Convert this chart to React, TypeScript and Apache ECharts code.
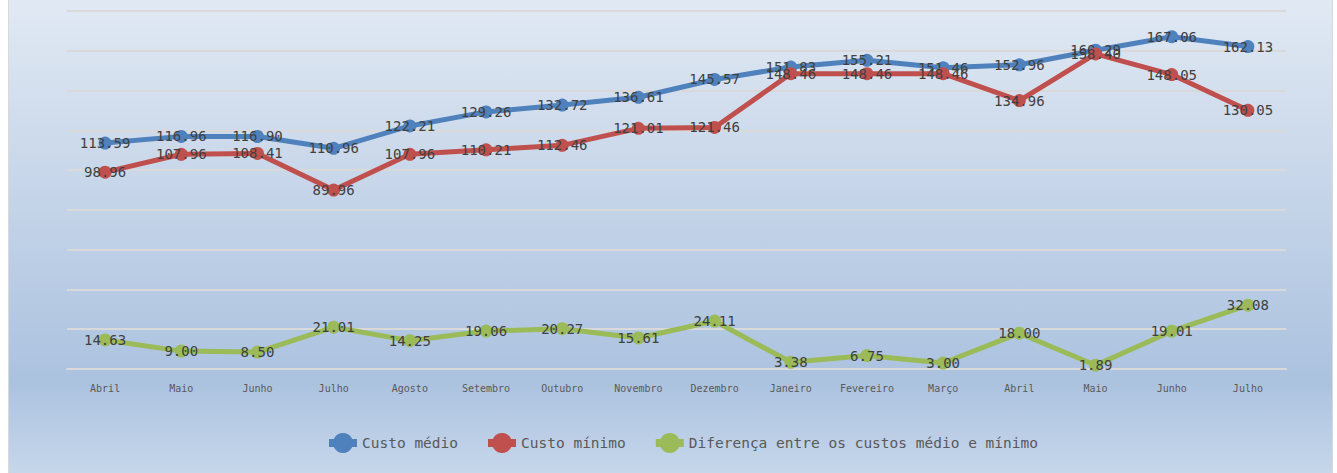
import React, { useEffect, useRef } from "react";
import * as echarts from "echarts";

const categories = ["Abril", "Maio", "Junho", "Julho", "Agosto", "Setembro", "Outubro", "Novembro", "Dezembro", "Janeiro", "Fevereiro", "Março", "Abril", "Maio", "Junho", "Julho"];
const custoMedio = [113.59, 116.96, 116.9, 110.96, 122.21, 129.26, 132.72, 136.61, 145.57, 151.83, 155.21, 151.46, 152.96, 160.29, 167.06, 162.13];
const custoMinimo = [98.96, 107.96, 108.41, 89.96, 107.96, 110.21, 112.46, 121.01, 121.46, 148.46, 148.46, 148.46, 134.96, 158.4, 148.05, 130.05];
const diferenca = [14.63, 9.0, 8.5, 21.01, 14.25, 19.06, 20.27, 15.61, 24.11, 3.38, 6.75, 3.0, 18.0, 1.89, 19.01, 32.08];

const seriesNames = ["Custo médio", "Custo mínimo", "Diferença entre os custos médio e mínimo"];
const seriesColors = ["#4f81bd", "#c0504d", "#9bbb59"];
const MONO = "'DejaVu Sans Mono', monospace";

export default function App() {
  const ref = useRef<HTMLDivElement>(null);
  useEffect(() => {
    if (!ref.current) return;
    const chart = echarts.init(ref.current, undefined, { renderer: "svg" });
    const datasets = [custoMedio, custoMinimo, diferenca];
    chart.setOption({
      animation: false,
      backgroundColor: {
        type: "linear",
        x: 0, y: 0, x2: 0, y2: 1,
        colorStops: [
          { offset: 0, color: "#e2eaf4" },
          { offset: 0.45, color: "#c3d3e8" },
          { offset: 0.8, color: "#abc2df" },
          { offset: 1, color: "#c8d8ec" },
        ],
      },
      grid: { left: 58, right: 46, top: 20, bottom: 110, containLabel: false },
      xAxis: {
        type: "category",
        data: categories,
        boundaryGap: true,
        axisLine: { show: true, lineStyle: { color: "#d9d9d9", width: 2 } },
        axisTick: { show: false },
        axisLabel: { fontFamily: MONO, fontSize: 10, color: "#595959", margin: 14, interval: 0 },
      },
      yAxis: {
        type: "value",
        min: 0,
        max: 180,
        interval: 20,
        axisLabel: { show: false },
        axisLine: { show: false },
        axisTick: { show: false },
        splitLine: { lineStyle: { color: "#d9d9d9", width: 2 } },
      },
      legend: {
        data: seriesNames,
        bottom: 26,
        left: 316,
        padding: 0,
        itemWidth: 28,
        itemHeight: 25,
        itemGap: 26,
        itemTextGap: 5,
        lineStyle: { width: 8 },
        textStyle: { fontFamily: MONO, fontSize: 14.5, color: "#595959" },
      },
      series: datasets.map((d, i) => ({
        name: seriesNames[i],
        type: "line",
        data: d,
        symbol: "circle",
        symbolSize: 13,
        color: seriesColors[i],
        lineStyle: { width: 5, color: seriesColors[i] },
        itemStyle: { color: seriesColors[i] },
        label: {
          show: true,
          position: "inside",
          fontFamily: MONO,
          fontSize: 14,
          color: "#404040",
          formatter: (p: any) => Number(p.value).toFixed(2),
        },
        z: 2 + i,
      })),
    });
    return () => chart.dispose();
  }, []);
  return (
    <div
      ref={ref}
      style={{
        position: "absolute",
        left: 8,
        top: -10,
        width: 1325,
        height: 490,
        boxSizing: "border-box",
        border: "1px solid #d9d9d9",
      }}
    />
  );
}
